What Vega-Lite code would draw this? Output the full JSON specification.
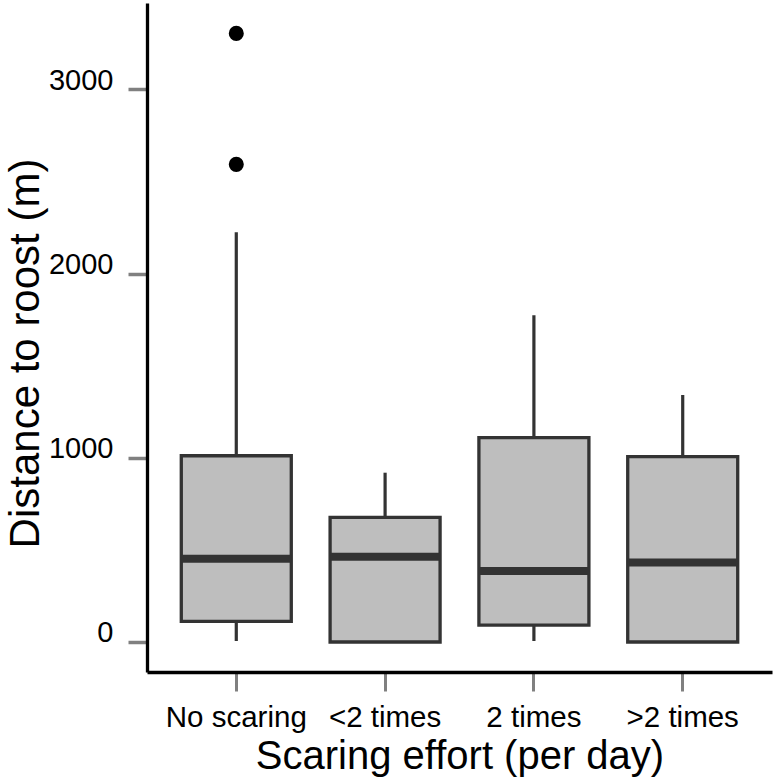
{
  "$schema": "https://vega.github.io/schema/vega-lite/v6.json",
  "width": 625,
  "height": 669,
  "autosize": "none",
  "padding": {"left": 147, "top": 3, "right": 2, "bottom": 112},
  "background": "white",
  "config": {
    "view": {"stroke": null},
    "font": "Liberation Sans"
  },
  "datasets": {
    "boxes": [
      {"effort": "No scaring", "lower": 5, "q1": 112, "median": 452, "q3": 1011, "upper": 2224},
      {"effort": "<2 times", "lower": 0, "q1": 0, "median": 463, "q3": 677, "upper": 919},
      {"effort": "2 times", "lower": 5, "q1": 92, "median": 386, "q3": 1109, "upper": 1774},
      {"effort": ">2 times", "lower": 0, "q1": 0, "median": 431, "q3": 1006, "upper": 1341}
    ],
    "outliers": [
      {"effort": "No scaring", "distance": 3304},
      {"effort": "No scaring", "distance": 2593}
    ]
  },
  "encoding": {
    "x": {
      "field": "effort",
      "type": "nominal",
      "sort": ["No scaring", "<2 times", "2 times", ">2 times"],
      "scale": {"type": "band", "paddingInner": 0, "paddingOuter": 0.1},
      "axis": {
        "title": "Scaring effort (per day)",
        "titleFontSize": 40,
        "titleFontWeight": "normal",
        "titleColor": "black",
        "titleY": 64,
        "titleBaseline": "top",
        "labelAngle": 0,
        "labelFontSize": 29.5,
        "labelColor": "black",
        "labelPadding": 12,
        "tickSize": 19,
        "tickWidth": 3,
        "tickColor": "#808080",
        "domainColor": "black",
        "domainWidth": 3.3
      }
    }
  },
  "layer": [
    {
      "data": {"name": "boxes"},
      "mark": {"type": "rule", "color": "#333333", "strokeWidth": 3.2},
      "encoding": {
        "y": {
          "field": "lower",
          "type": "quantitative",
          "scale": {"domain": [-163, 3469], "nice": false, "zero": false},
          "axis": {
            "title": "Distance to roost (m)",
            "titleFontSize": 42,
            "titleFontWeight": "normal",
            "titleColor": "black",
            "titleX": -100,
            "titleY": 350,
            "titleAngle": -90,
            "titleBaseline": "bottom",
            "values": [0, 1000, 2000, 3000],
            "format": "d",
            "grid": false,
            "labelFontSize": 29,
            "labelColor": "black",
            "labelPadding": 15,
            "labelBaseline": "alphabetic",
            "tickSize": 19,
            "tickWidth": 3.5,
            "tickColor": "#808080",
            "domainColor": "black",
            "domainWidth": 3.3
          }
        },
        "y2": {"field": "upper"}
      }
    },
    {
      "data": {"name": "boxes"},
      "mark": {"type": "bar", "size": 110, "fill": "#bebebe", "stroke": "#333333", "strokeWidth": 3.3},
      "encoding": {
        "y": {"field": "q1", "type": "quantitative"},
        "y2": {"field": "q3"}
      }
    },
    {
      "data": {"name": "boxes"},
      "mark": {"type": "tick", "size": 110, "thickness": 8, "color": "#333333", "opacity": 1},
      "encoding": {
        "y": {"field": "median", "type": "quantitative"}
      }
    },
    {
      "data": {"name": "outliers"},
      "mark": {"type": "circle", "size": 227, "color": "black", "opacity": 1},
      "encoding": {
        "y": {"field": "distance", "type": "quantitative"}
      }
    }
  ]
}
